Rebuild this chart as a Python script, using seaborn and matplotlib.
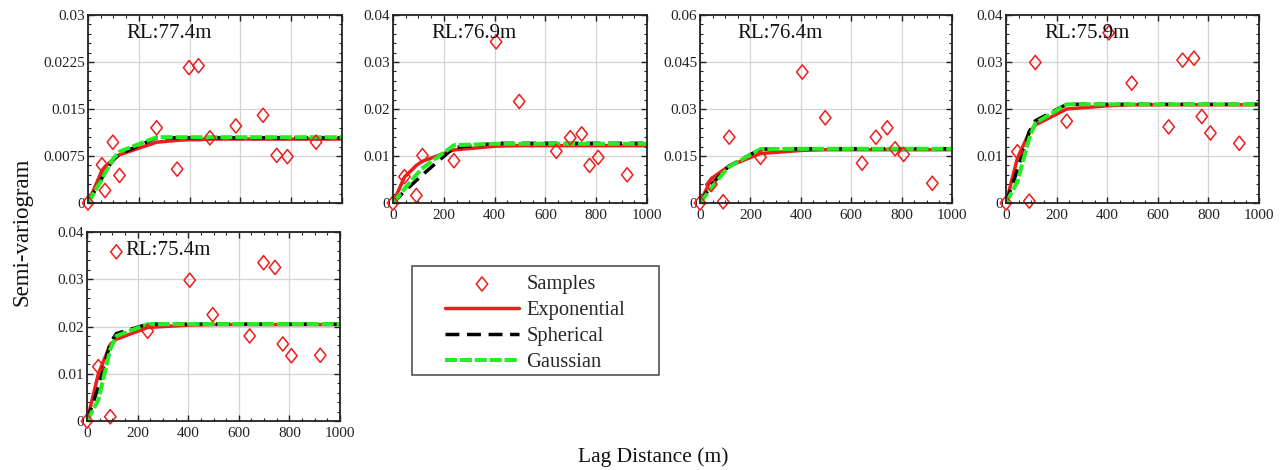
import numpy as np
import pandas as pd
import matplotlib
matplotlib.use("Agg")
import matplotlib.pyplot as plt
from matplotlib.ticker import MultipleLocator, AutoMinorLocator, FuncFormatter
from matplotlib.path import Path as MPath
import seaborn as sns

# ---------------------------------------------------------------
# Data
# ---------------------------------------------------------------
titles = ["RL:77.4m", "RL:76.9m", "RL:76.4m", "RL:75.9m", "RL:75.4m"]
y_max = [0.03, 0.04, 0.06, 0.04, 0.04]

# panel 1 has its own lag bins, panels 2-5 share one set
lag_a = [0, 55, 67, 98, 124, 270, 351, 398, 435, 480, 582, 689, 743, 785, 898]
lag_b = [0, 45, 92, 116, 240, 406, 497, 643, 698, 743, 774, 808, 922]
fit_lag_a = lag_a + [1000]
fit_lag_b = lag_b + [1000]

samples_1 = [0, 0.0061, 0.0020, 0.0097, 0.0044, 0.0120, 0.0054, 0.0216, 0.0219,
             0.0104, 0.0123, 0.0140, 0.0076, 0.0074, 0.0097]
samples_2 = [0, 0.0056, 0.0016, 0.0101, 0.0090, 0.0343, 0.0216, 0.0110, 0.0139,
             0.0147, 0.0080, 0.0097, 0.0060]
samples_3 = [0, 0.0059, 0.0004, 0.0210, 0.0146, 0.0418, 0.0272, 0.0127, 0.0210,
             0.0240, 0.0173, 0.0155, 0.0063]
samples_4 = [0, 0.0109, 0.0004, 0.0299, 0.0174, 0.0362, 0.0255, 0.0162, 0.0304,
             0.0308, 0.0184, 0.0149, 0.0127]
samples_5 = [0, 0.0115, 0.0009, 0.0358, 0.0190, 0.0298, 0.0225, 0.0180, 0.0335,
             0.0325, 0.0163, 0.0138, 0.0139]

exp_1 = [0, 0.0052, 0.0058, 0.0069, 0.0077, 0.0097, 0.0100, 0.0101, 0.0101,
         0.0102, 0.0102, 0.0102, 0.0102, 0.0102, 0.0102, 0.0102]
sph_1 = [0, 0.0040, 0.0050, 0.0068, 0.0078, 0.0104, 0.0104, 0.0104, 0.0104,
         0.0104, 0.0104, 0.0104, 0.0104, 0.0104, 0.0104, 0.0104]
gau_1 = [0, 0.0038, 0.0048, 0.0070, 0.0082, 0.0105, 0.0105, 0.0105, 0.0105,
         0.0105, 0.0105, 0.0105, 0.0105, 0.0105, 0.0105, 0.0105]

exp_2 = [0, 0.0055, 0.0080, 0.0089, 0.0113, 0.0121, 0.0122, 0.0122, 0.0122,
         0.0122, 0.0122, 0.0122, 0.0122, 0.0122]
sph_2 = [0, 0.0025, 0.0048, 0.0060, 0.0118, 0.0127, 0.0127, 0.0127, 0.0127,
         0.0127, 0.0127, 0.0127, 0.0127, 0.0127]
gau_2 = [0, 0.0030, 0.0060, 0.0074, 0.0123, 0.0126, 0.0126, 0.0126, 0.0126,
         0.0126, 0.0126, 0.0126, 0.0126, 0.0126]

exp_3 = [0, 0.0078, 0.0105, 0.0118, 0.0158, 0.0168, 0.0170, 0.0170, 0.0170,
         0.0170, 0.0170, 0.0170, 0.0170, 0.0170]
sph_3 = [0, 0.0058, 0.0100, 0.0118, 0.0172, 0.0173, 0.0173, 0.0173, 0.0173,
         0.0173, 0.0173, 0.0173, 0.0173, 0.0173]
gau_3 = [0, 0.0048, 0.0095, 0.0116, 0.0172, 0.0173, 0.0173, 0.0173, 0.0173,
         0.0173, 0.0173, 0.0173, 0.0173, 0.0173]

exp_4 = [0, 0.0095, 0.0150, 0.0166, 0.0200, 0.0207, 0.0209, 0.0209, 0.0209,
         0.0209, 0.0209, 0.0209, 0.0209, 0.0209]
sph_4 = [0, 0.0070, 0.0152, 0.0175, 0.0210, 0.0210, 0.0210, 0.0210, 0.0210,
         0.0210, 0.0210, 0.0210, 0.0210, 0.0210]
gau_4 = [0, 0.0045, 0.0138, 0.0170, 0.0210, 0.0210, 0.0210, 0.0210, 0.0210,
         0.0210, 0.0210, 0.0210, 0.0210, 0.0210]

exp_5 = [0, 0.0100, 0.0162, 0.0173, 0.0198, 0.0203, 0.0204, 0.0204, 0.0204,
         0.0204, 0.0204, 0.0204, 0.0204, 0.0204]
sph_5 = [0, 0.0072, 0.0165, 0.0185, 0.0205, 0.0205, 0.0205, 0.0205, 0.0205,
         0.0205, 0.0205, 0.0205, 0.0205, 0.0205]
gau_5 = [0, 0.0045, 0.0152, 0.0180, 0.0205, 0.0205, 0.0205, 0.0205, 0.0205,
         0.0205, 0.0205, 0.0205, 0.0205, 0.0205]

panels = [
    (lag_a, fit_lag_a, samples_1, exp_1, sph_1, gau_1),
    (lag_b, fit_lag_b, samples_2, exp_2, sph_2, gau_2),
    (lag_b, fit_lag_b, samples_3, exp_3, sph_3, gau_3),
    (lag_b, fit_lag_b, samples_4, exp_4, sph_4, gau_4),
    (lag_b, fit_lag_b, samples_5, exp_5, sph_5, gau_5),
]

# axes boxes in pixels (x0, y0, x1, y1), top-left origin
W, H = 1282, 470
boxes = [(88, 15, 342, 203), (393, 15, 647, 203), (700, 15, 952, 203),
         (1006, 15, 1259, 203), (87, 232, 340, 421)]

# ---------------------------------------------------------------
# Style
# ---------------------------------------------------------------
sns.set_theme(style="ticks")
plt.rcParams.update({
    "font.family": ["Liberation Serif", "DejaVu Serif"],
    "axes.edgecolor": "#222222",
    "axes.linewidth": 1.3,
    "xtick.direction": "in",
    "ytick.direction": "in",
    "xtick.color": "#222222",
    "ytick.color": "#222222",
    "xtick.labelsize": 11,
    "ytick.labelsize": 11,
    "xtick.labelcolor": "#222222",
    "ytick.labelcolor": "#222222",
})

RED = "#ee1c1c"
GREEN = "#22ee22"
diamond = MPath([(0, 1), (0.8, 0), (0, -1), (-0.8, 0), (0, 1)],
                [MPath.MOVETO, MPath.LINETO, MPath.LINETO, MPath.LINETO, MPath.CLOSEPOLY])

fig = plt.figure(figsize=(W / 100, H / 100), dpi=100)


def fmt(v, _):
    return "0" if abs(v) < 1e-12 else f"{v:g}"


axes = []
for i, (box, title, ymax, (lags, fit_lags, samp, e, s, g)) in enumerate(zip(boxes, titles, y_max, panels)):
    x0, y0, x1, y1 = box
    ax = fig.add_axes([x0 / W, 1 - y1 / H, (x1 - x0) / W, (y1 - y0) / H])
    axes.append(ax)

    fit = pd.DataFrame({"lag": fit_lags, "exp": e, "sph": s, "gau": g})
    sns.lineplot(data=fit, x="lag", y="exp", ax=ax, color=RED, lw=2.5,
                 label="Exponential", zorder=3)
    sns.lineplot(data=fit, x="lag", y="sph", ax=ax, color="black", lw=2.5,
                 linestyle=(0, (4, 2.2)), label="Spherical", zorder=4)
    sns.lineplot(data=fit, x="lag", y="gau", ax=ax, color=GREEN, lw=2.9,
                 linestyle=(0, (3, 0.7)), label="Gaussian", zorder=5)
    sns.scatterplot(x=lags, y=samp, ax=ax, marker=diamond, s=105,
                    facecolors="none", edgecolors=RED, linewidths=1.1,
                    label="Samples", zorder=6, clip_on=False)

    ax.set_xlim(0, 1000)
    ax.set_ylim(0, ymax)
    ax.xaxis.set_major_locator(MultipleLocator(200))
    ax.xaxis.set_minor_locator(MultipleLocator(50))
    ax.yaxis.set_major_locator(MultipleLocator(ymax / 4))
    ax.yaxis.set_minor_locator(AutoMinorLocator(5))
    ax.yaxis.set_major_formatter(FuncFormatter(fmt))
    ax.tick_params(which="both", top=True, right=True)
    ax.tick_params(axis="x", pad=4)
    ax.tick_params(axis="y", pad=2)
    ax.tick_params(which="major", length=4, width=1)
    ax.tick_params(which="minor", length=2.5, width=0.8)
    ax.grid(True, which="major", color="#d4d4d4", lw=0.9)
    ax.set_axisbelow(True)
    ax.set_xlabel("")
    ax.set_ylabel("")
    if i == 0:
        ax.tick_params(axis="x", labelbottom=False)
    ax.text(0.15, 0.9, title, transform=ax.transAxes, ha="left", va="center",
            fontsize=15, color="#111111", zorder=7)
    for sp in ax.spines.values():
        sp.set_zorder(8)

handles, labels = axes[0].get_legend_handles_labels()
for ax in axes:
    ax.get_legend().remove()

order = [labels.index(n) for n in ["Samples", "Exponential", "Spherical", "Gaussian"]]
fig.legend([handles[k] for k in order], [labels[k] for k in order],
           loc="upper left", bbox_to_anchor=(445 / W, 1 - 275 / H),
           borderaxespad=0, borderpad=0, fontsize=14.8, handlelength=3.6,
           handletextpad=0.35, labelspacing=0.32, frameon=False)
# legend box is wider than the entries need, so draw it on its own
fig.add_artist(plt.Rectangle((412 / W, 1 - 375 / H), 247 / W, 109 / H,
                             transform=fig.transFigure, fill=False,
                             ec="#444444", lw=1.1))

fig.text(22 / W, 1 - 232 / H, "Semi-variogram", rotation=90, ha="center",
         va="center", fontsize=16.5, color="#111111")
fig.text(653 / W, 1 - 457 / H, "Lag Distance (m)", ha="center", va="center",
         fontsize=15.5, color="#111111")

fig.savefig("out.png", dpi=100)
